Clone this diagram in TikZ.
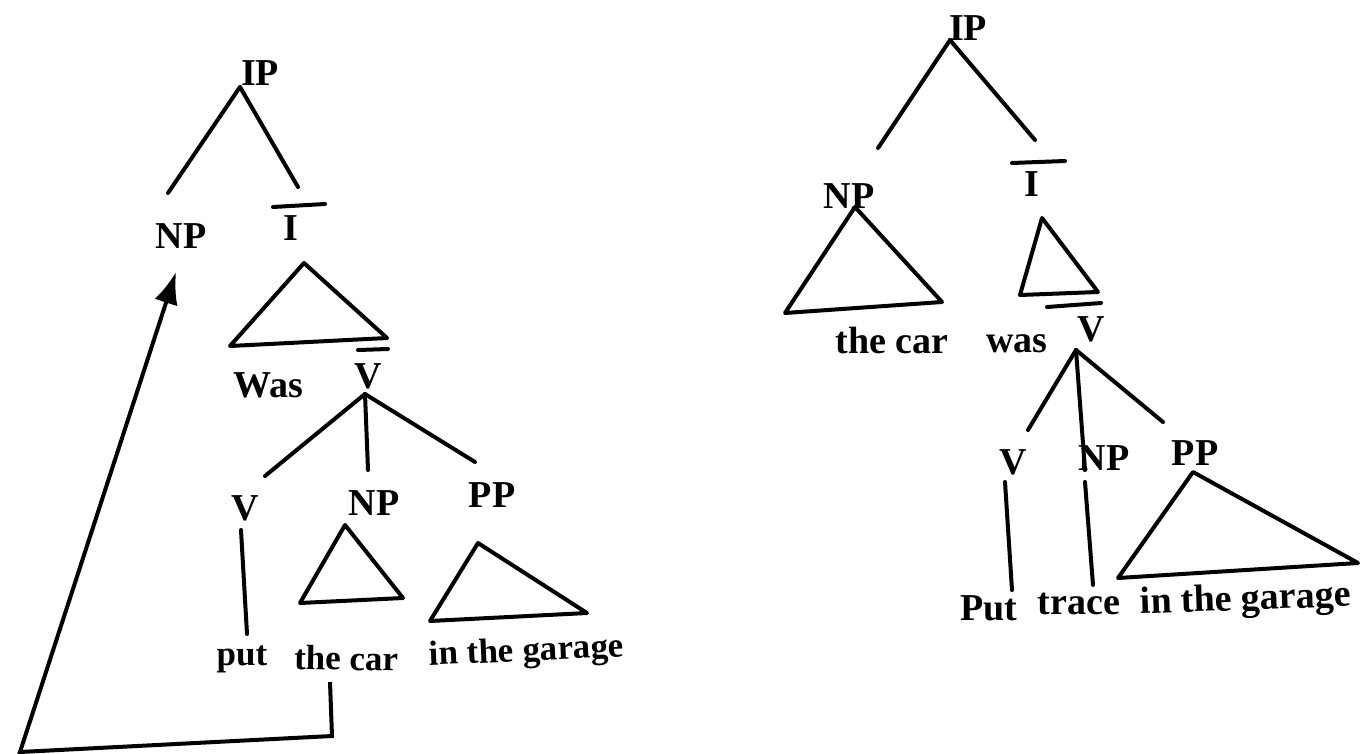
\documentclass[tikz,border=0pt]{standalone}
\usepackage{fontspec}
\setmainfont{Liberation Serif}
\usetikzlibrary{arrows.meta}
\begin{document}
\begin{tikzpicture}[x=1pt,y=-1pt,
  lbl/.style={font=\fontsize{38}{42}\selectfont\bfseries, inner sep=0pt, anchor=base},
  sml/.style={lbl, font=\fontsize{35}{40}\selectfont\bfseries},
  br/.style={line width=4pt, line cap=round},
  tri/.style={line width=4pt, line join=round}]
\useasboundingbox (0,0) rectangle (1360,753);
% ---------- left tree ----------
\node[lbl] (lip) at (260,85) {IP};
\coordinate (lipa) at (240,87);
\coordinate (lnpe) at (168,193);
\coordinate (libe) at (298,187);
\node[lbl] (lnp) at (181,248) {NP};
\node[lbl] (libar) at (291,240) {I};
\draw[br] (lipa) -- (lnpe);
\draw[br] (lipa) -- (libe);
\draw[br] (273,207) -- (325,204);
\draw[tri] (304,263) -- (387,338) -- (230,346) -- cycle;
\node[lbl] (lwas) at (268,397) {Was};
\node[lbl] (lvbar) at (368,388) {V};
\draw[br] (358,350) -- (388,349);
\coordinate (lva) at (365,394);
\draw[br] (lva) -- (265,476);
\draw[br] (lva) -- (368,470);
\draw[br] (lva) -- (475,462);
\node[lbl] (lv) at (245,520) {V};
\node[lbl] (lnp2) at (374,515) {NP};
\node[lbl] (lpp) at (492,507) {PP};
\draw[tri] (345,525) -- (403,598) -- (300,603) -- cycle;
\draw[tri] (478,543) -- (587,613) -- (430,621) -- cycle;
\node[sml] (lput) at (242,665) {put};
\node[sml, rotate=-1] (lcar) at (346,670) {the car};
\node[sml, rotate=2.5] (lgar) at (527,661) {in the garage};
\draw[br] (241,530) -- (247,634);
\coordinate (ac1) at (332,736);
\coordinate (ac2) at (20,752);
\draw[line width=4pt, line join=miter, -{Latex[length=32pt,width=24pt]}]
  (330,682) -- (ac1) -- (ac2) -- (176,272);
% ---------- right tree ----------
\node[lbl] (rip) at (968,40) {IP};
\coordinate (ripa) at (950,40);
\draw[br] (ripa) -- (878,148);
\draw[br] (ripa) -- (1035,140);
\node[lbl] (rnp) at (849,208) {NP};
\draw[tri] (855,207) -- (942,302) -- (785,313) -- cycle;
\node[lbl] (rcar) at (892,353) {the car};
\node[lbl] (ribar) at (1032,196) {I};
\draw[br] (1012,163) -- (1065,161);
\draw[tri] (1042,218) -- (1098,292) -- (1020,295) -- cycle;
\draw[br] (1047,307) -- (1101,303);
\node[lbl] (rvbar) at (1091,341) {V};
\node[lbl] (rwas) at (1017,352) {was};
\coordinate (rva) at (1076,350);
\node[lbl] (rv) at (1013,474) {V};
\node[lbl] (rnp2) at (1104,470) {NP};
\node[lbl] (rpp) at (1195,465) {PP};
\draw[br] (rva) -- (1028,430);
\draw[br] (rva) -- (1085,470);
\draw[br] (rva) -- (1163,422);
\draw[br] (1005,482) -- (1012,590);
\draw[br] (1085,482) -- (1093,585);
\draw[tri] (1193,472) -- (1358,563) -- (1118,578) -- cycle;
\node[lbl] (rput) at (989,620) {Put};
\node[lbl] (rtrace) at (1079,614) {trace};
\node[lbl, rotate=2] (rgar) at (1246,610) {in the garage};
\end{tikzpicture}
\end{document}
